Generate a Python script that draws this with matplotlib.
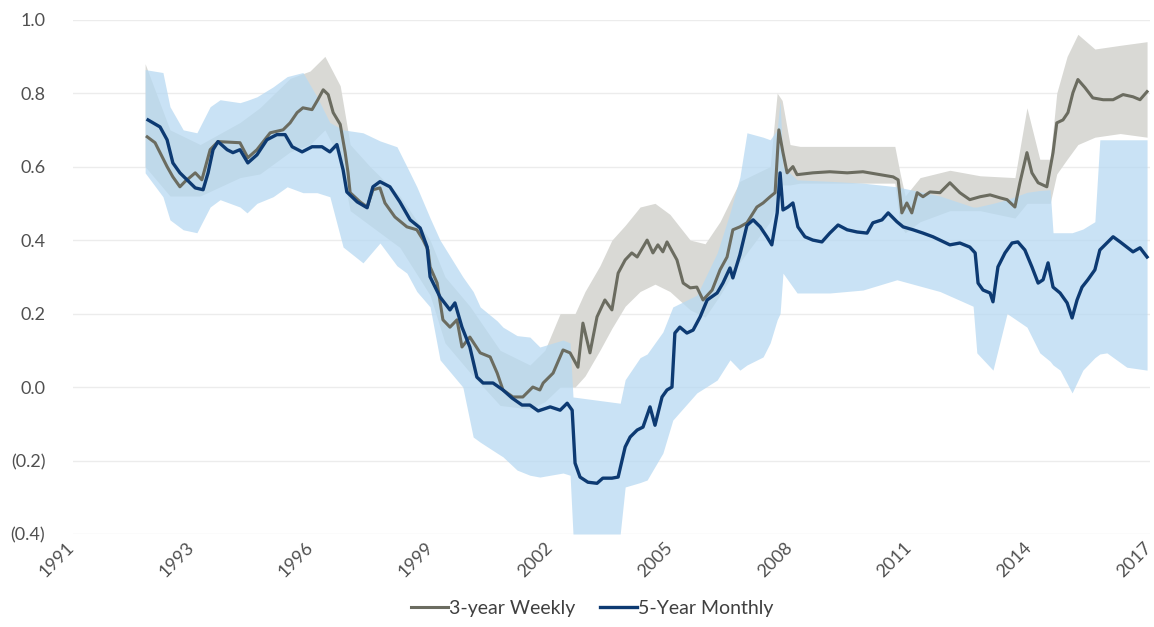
import matplotlib
matplotlib.use("Agg")
import matplotlib.pyplot as plt
import matplotlib.transforms as mtransforms
import numpy as np

plt.rcParams['font.family'] = ['Lato', 'DejaVu Sans']

# 5-Year Monthly rolling estimate (decimal year, value)
five_x = [1992.81, 1993.10, 1993.27, 1993.41, 1993.58, 1993.75, 1993.95, 1994.14, 1994.26, 1994.38,
          1994.50, 1994.72, 1994.86, 1995.03, 1995.22, 1995.44, 1995.68, 1995.92, 1996.12, 1996.29,
          1996.53, 1996.77, 1997.01, 1997.20, 1997.37, 1997.52, 1997.61, 1997.86, 1998.10, 1998.24,
          1998.41, 1998.65, 1998.89, 1999.14, 1999.38, 1999.55, 1999.62, 1999.86, 2000.10, 2000.22,
          2000.39, 2000.58, 2000.75, 2000.90, 2001.14, 2001.38, 2001.60, 2001.84, 2002.03, 2002.23,
          2002.52, 2002.76, 2002.93, 2003.05, 2003.12, 2003.24, 2003.43, 2003.65, 2003.79, 2004.01,
          2004.16, 2004.33, 2004.45, 2004.62, 2004.76, 2004.93, 2005.05, 2005.22, 2005.34, 2005.46,
          2005.53, 2005.65, 2005.82, 2005.97, 2006.14, 2006.31, 2006.55, 2006.69, 2006.86, 2006.93,
          2007.10, 2007.27, 2007.42, 2007.59, 2007.75, 2007.87, 2008.00, 2008.07, 2008.14, 2008.26,
          2008.38, 2008.50, 2008.67, 2008.86, 2009.08, 2009.27, 2009.47, 2009.69, 2009.93, 2010.17,
          2010.31, 2010.53, 2010.68, 2010.89, 2011.04, 2011.28, 2011.52, 2011.76, 2011.93, 2012.17,
          2012.41, 2012.65, 2012.78, 2012.85, 2012.97, 2013.14, 2013.21, 2013.33, 2013.50, 2013.67,
          2013.81, 2013.98, 2014.15, 2014.30, 2014.42, 2014.54, 2014.66, 2014.83, 2015.00, 2015.12,
          2015.24, 2015.36, 2015.50, 2015.67, 2015.79, 2015.96, 2016.11, 2016.28, 2016.44, 2016.59,
          2016.76, 2016.93]
five_y = [0.727, 0.708, 0.673, 0.610, 0.583, 0.564, 0.542, 0.537, 0.583, 0.646,
          0.668, 0.646, 0.638, 0.646, 0.610, 0.632, 0.673, 0.687, 0.687, 0.654,
          0.640, 0.654, 0.654, 0.640, 0.660, 0.591, 0.531, 0.504, 0.488, 0.545,
          0.559, 0.545, 0.504, 0.455, 0.433, 0.381, 0.300, 0.245, 0.210, 0.229,
          0.163, 0.109, 0.027, 0.011, 0.011, -0.008, -0.030, -0.049, -0.049, -0.065,
          -0.054, -0.063, -0.044, -0.063, -0.207, -0.245, -0.259, -0.262, -0.248, -0.248,
          -0.245, -0.163, -0.136, -0.117, -0.109, -0.054, -0.104, -0.027, -0.008, 0.000,
          0.147, 0.163, 0.147, 0.155, 0.191, 0.237, 0.256, 0.283, 0.324, 0.297,
          0.360, 0.440, 0.455, 0.436, 0.409, 0.387, 0.474, 0.583, 0.482, 0.490,
          0.501, 0.436, 0.409, 0.400, 0.395, 0.419, 0.441, 0.428, 0.422, 0.419,
          0.447, 0.455, 0.474, 0.450, 0.436, 0.428, 0.419, 0.409, 0.400, 0.387,
          0.392, 0.381, 0.365, 0.283, 0.264, 0.256, 0.232, 0.327, 0.365, 0.392,
          0.395, 0.373, 0.327, 0.283, 0.292, 0.338, 0.272, 0.256, 0.229, 0.188,
          0.237, 0.272, 0.292, 0.319, 0.373, 0.392, 0.409, 0.395, 0.381, 0.368,
          0.379, 0.354]

# 3-year Weekly rolling estimate
three_x = [1992.79, 1992.98, 1993.15, 1993.27, 1993.41, 1993.58, 1993.70, 1993.95, 1994.11, 1994.31,
           1994.50, 1995.03, 1995.22, 1995.44, 1995.76, 1996.07, 1996.24, 1996.41, 1996.55, 1996.77,
           1996.91, 1997.04, 1997.16, 1997.28, 1997.45, 1997.57, 1997.64, 1997.69, 1997.93, 1998.10,
           1998.24, 1998.41, 1998.53, 1998.77, 1999.06, 1999.30, 1999.45, 1999.57, 1999.62, 1999.79,
           1999.93, 2000.10, 2000.27, 2000.39, 2000.58, 2000.83, 2001.07, 2001.24, 2001.38, 2001.62,
           2001.86, 2002.10, 2002.27, 2002.35, 2002.59, 2002.83, 2003.00, 2003.19, 2003.31, 2003.48,
           2003.65, 2003.84, 2004.01, 2004.16, 2004.33, 2004.49, 2004.62, 2004.86, 2005.00, 2005.12,
           2005.24, 2005.34, 2005.58, 2005.73, 2005.90, 2006.06, 2006.21, 2006.43, 2006.62, 2006.79,
           2006.93, 2007.10, 2007.27, 2007.51, 2007.66, 2007.83, 2007.95, 2008.04, 2008.14, 2008.24,
           2008.38, 2008.48, 2008.86, 2009.27, 2009.69, 2010.07, 2010.48, 2010.80, 2010.92, 2011.01,
           2011.13, 2011.25, 2011.38, 2011.52, 2011.69, 2011.93, 2012.17, 2012.41, 2012.65, 2012.90,
           2013.14, 2013.38, 2013.55, 2013.74, 2013.86, 2014.03, 2014.15, 2014.30, 2014.51, 2014.66,
           2014.75, 2014.90, 2015.02, 2015.14, 2015.26, 2015.43, 2015.62, 2015.87, 2016.11, 2016.35,
           2016.59, 2016.76, 2016.93]
three_y = [0.681, 0.665, 0.627, 0.600, 0.572, 0.545, 0.559, 0.583, 0.564, 0.646,
           0.668, 0.665, 0.624, 0.646, 0.692, 0.700, 0.719, 0.747, 0.760, 0.755,
           0.782, 0.809, 0.796, 0.747, 0.715, 0.638, 0.583, 0.529, 0.504, 0.490,
           0.537, 0.542, 0.501, 0.463, 0.436, 0.428, 0.401, 0.373, 0.327, 0.283,
           0.183, 0.163, 0.183, 0.109, 0.136, 0.093, 0.082, 0.038, -0.008, -0.027,
           -0.027, 0.000, -0.008, 0.011, 0.038, 0.101, 0.093, 0.054, 0.174, 0.093,
           0.191, 0.237, 0.210, 0.310, 0.346, 0.365, 0.354, 0.400, 0.365, 0.387,
           0.368, 0.395, 0.346, 0.283, 0.270, 0.272, 0.237, 0.264, 0.319, 0.354,
           0.428, 0.436, 0.447, 0.490, 0.501, 0.518, 0.529, 0.700, 0.638, 0.583,
           0.600, 0.578, 0.583, 0.586, 0.583, 0.586, 0.578, 0.572, 0.564, 0.474,
           0.501, 0.474, 0.529, 0.518, 0.531, 0.529, 0.556, 0.529, 0.510, 0.518,
           0.523, 0.515, 0.510, 0.490, 0.556, 0.638, 0.583, 0.556, 0.545, 0.638,
           0.719, 0.727, 0.747, 0.801, 0.837, 0.815, 0.787, 0.782, 0.782, 0.796,
           0.790, 0.782, 0.804]

# confidence band around the 5-Year Monthly estimate
five_band_x = [1992.74, 1993.17, 1993.34, 1993.66, 1993.99, 1994.31, 1994.55, 1995.03, 1995.20, 1995.44,
               1995.83, 1996.17, 1996.55, 1996.89, 1997.20, 1997.52, 1998.00, 1998.41, 1998.82, 1999.06,
               1999.30, 1999.62, 1999.86, 2000.41, 2000.66, 2000.83, 2001.24, 2001.38, 2001.72, 2002.03,
               2002.27, 2002.83, 2003.00, 2003.07, 2004.21, 2004.33, 2004.69, 2004.86, 2005.24, 2005.48,
               2006.06, 2006.55, 2006.86, 2007.10, 2007.27, 2007.66, 2007.83, 2008.00, 2008.07, 2008.14,
               2008.48, 2009.27, 2010.07, 2010.89, 2011.93, 2012.73, 2012.82, 2013.21, 2013.55, 2014.03,
               2014.34, 2014.59, 2014.66, 2014.83, 2015.12, 2015.38, 2015.67, 2015.79, 2015.96, 2016.44,
               2016.93]
five_band_hi = [0.864, 0.856, 0.763, 0.700, 0.692, 0.763, 0.782, 0.774, 0.780, 0.790,
                0.817, 0.845, 0.856, 0.790, 0.720, 0.700, 0.692, 0.670, 0.654, 0.600,
                0.545, 0.460, 0.400, 0.300, 0.260, 0.218, 0.180, 0.163, 0.140, 0.136,
                0.109, 0.128, 0.120, -0.027, -0.044, 0.020, 0.080, 0.090, 0.150, 0.218,
                0.250, 0.365, 0.474, 0.572, 0.692, 0.680, 0.673, 0.700, 0.780, 0.600,
                0.564, 0.560, 0.555, 0.545, 0.520, 0.490, 0.490, 0.500, 0.510, 0.530,
                0.535, 0.537, 0.420, 0.420, 0.420, 0.430, 0.450, 0.673, 0.673, 0.673,
                0.673]
five_band_lo = [0.583, 0.518, 0.455, 0.428, 0.420, 0.490, 0.510, 0.490, 0.474, 0.500,
                0.518, 0.545, 0.529, 0.529, 0.518, 0.381, 0.338, 0.392, 0.330, 0.310,
                0.260, 0.218, 0.074, 0.000, -0.136, -0.150, -0.180, -0.190, -0.226, -0.240,
                -0.245, -0.234, -0.240, -0.400, -0.400, -0.272, -0.260, -0.253, -0.180, -0.090,
                -0.016, 0.019, 0.074, 0.046, 0.060, 0.082, 0.120, 0.183, 0.200, 0.310,
                0.256, 0.256, 0.264, 0.292, 0.260, 0.220, 0.093, 0.046, 0.200, 0.163,
                0.093, 0.070, 0.060, 0.046, -0.016, 0.046, 0.080, 0.090, 0.093, 0.054,
                0.046]

# confidence band around the 3-year Weekly estimate
three_band_x = [1992.74, 1993.34, 1994.07, 1995.03, 1995.51, 1996.24, 1996.72, 1997.08, 1997.45, 1997.69,
                1998.17, 1998.89, 1999.62, 1999.98, 2000.58, 2001.31, 2002.03, 2002.39, 2002.76, 2003.12,
                2003.36, 2003.72, 2004.01, 2004.33, 2004.69, 2005.05, 2005.41, 2005.90, 2006.26, 2006.62,
                2007.10, 2007.83, 2008.00, 2008.12, 2008.31, 2008.55, 2010.84, 2010.97, 2011.09, 2011.45,
                2012.17, 2012.90, 2013.74, 2014.03, 2014.34, 2014.59, 2014.75, 2015.00, 2015.26, 2015.67,
                2016.28, 2016.93]
three_band_hi = [0.880, 0.700, 0.660, 0.720, 0.760, 0.840, 0.860, 0.900, 0.820, 0.660,
                 0.600, 0.520, 0.400, 0.300, 0.220, 0.100, 0.060, 0.100, 0.200, 0.200,
                 0.260, 0.330, 0.400, 0.440, 0.490, 0.500, 0.470, 0.400, 0.390, 0.450,
                 0.560, 0.600, 0.800, 0.780, 0.660, 0.655, 0.655, 0.580, 0.520, 0.570,
                 0.590, 0.575, 0.570, 0.760, 0.620, 0.620, 0.800, 0.900, 0.960, 0.920,
                 0.930, 0.940]
three_band_lo = [0.600, 0.520, 0.520, 0.570, 0.580, 0.640, 0.660, 0.700, 0.620, 0.480,
                 0.440, 0.380, 0.250, 0.120, 0.040, -0.050, -0.060, -0.040, 0.000, 0.000,
                 0.030, 0.100, 0.160, 0.220, 0.260, 0.280, 0.260, 0.210, 0.190, 0.250,
                 0.340, 0.450, 0.500, 0.550, 0.550, 0.555, 0.555, 0.440, 0.420, 0.450,
                 0.480, 0.480, 0.460, 0.500, 0.500, 0.500, 0.580, 0.620, 0.660, 0.680,
                 0.690, 0.680]

tick_years = np.linspace(1991, 2017, 10)
tick_labels = ['1991', '1993', '1996', '1999', '2002', '2005', '2008', '2011', '2014', '2017']
y_ticks = [-0.4, -0.2, 0.0, 0.2, 0.4, 0.6, 0.8, 1.0]
y_labels = ['(0.4)', '(0.2)', '0.0', '0.2', '0.4', '0.6', '0.8', '1.0']

fig = plt.figure(figsize=(11.54, 6.27), dpi=100)
ax = fig.add_axes([0.0633, 0.1483, 0.9332, 0.8204])

ax.fill_between(three_band_x, three_band_lo, three_band_hi, color='#d9d9d5', lw=0, zorder=1)
ax.fill_between(five_band_x, five_band_lo, five_band_hi, color='#b7d9f2', alpha=0.75, lw=0, zorder=2)
ax.plot(three_x, three_y, color='#6b6c60', lw=2.2, zorder=3, label='3-year Weekly')
ax.plot(five_x, five_y, color='#0d3a72', lw=2.4, zorder=4, label='5-Year Monthly')

ax.set_xlim(1991, 2017)
ax.set_ylim(-0.4, 1.0)
ax.set_xticks(tick_years)
ax.set_xticklabels(tick_labels, rotation=45, ha='right', rotation_mode='anchor')
ax.set_yticks(y_ticks)
ax.set_yticklabels(y_labels)
ax.tick_params(axis='both', length=0, labelsize=13, colors='#505050')
ax.tick_params(axis='y', pad=20)
ax.tick_params(axis='x', pad=4)
# nudge the rotated year labels left so the last one stays inside the figure
shift = mtransforms.ScaledTranslation(-5 / 72, 0, fig.dpi_scale_trans)
for lbl in ax.get_xticklabels():
    lbl.set_transform(lbl.get_transform() + shift)
ax.grid(axis='y', color='#ececec', lw=1)
ax.set_axisbelow(True)
for s in ax.spines.values():
    s.set_visible(False)

fig.legend(loc='lower center', bbox_to_anchor=(0.513, -0.012), ncol=2, frameon=False,
           fontsize=14, handlelength=1.9, handletextpad=0.05, columnspacing=1.3,
           labelcolor='#404040')

fig.savefig('out.png', dpi=100)
